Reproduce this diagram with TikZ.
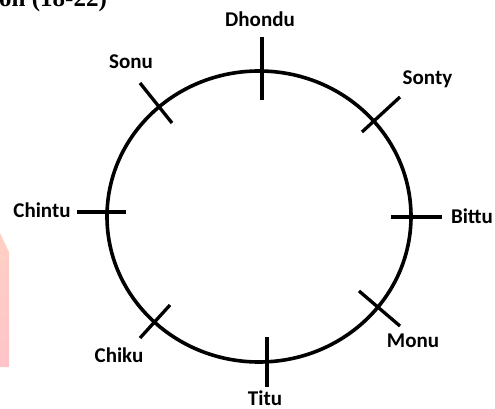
\documentclass[tikz,border=0pt]{standalone}
\usepackage{fontspec}
\setmainfont{Carlito}
\newfontfamily\headfont{Liberation Serif}
\begin{document}
\begin{tikzpicture}[x=1pt,y=-1pt,
  lbl/.style={font=\fontsize{21}{22}\selectfont\bfseries, inner sep=0pt, anchor=base},
  tick/.style={line width=3.3pt},
  ring/.style={line width=3.6pt}]
\useasboundingbox (0,0) rectangle (495,409);
\begin{scope}
\clip (0,0) rectangle (495,409);
% partial heading at top-left
\node[font=\fontsize{25}{26}\selectfont\bfseries\headfont, inner sep=0pt, anchor=base west] (head) at (-1,7) {on (18-22)};
% pink watermark strip
\shade[top color={rgb,255:red,255;green,208;blue,196}, bottom color={rgb,255:red,255;green,196;blue,200}]
  (0,233) -- (9,252) -- (9,367) -- (0,367) -- cycle;
\end{scope}
% circle
\coordinate (c) at (259,216.5);
\draw[ring] (c) ellipse [x radius=152, y radius=145.5];
% tick end points
\coordinate (dA) at (262,37);  \coordinate (dB) at (262,100);
\coordinate (tA) at (267,337); \coordinate (tB) at (267,387);
\coordinate (cA) at (77,212);  \coordinate (cB) at (126,212);
\coordinate (bA) at (391,217); \coordinate (bB) at (442,217);
\coordinate (syA) at (362,132); \coordinate (syB) at (400,97);
\coordinate (mA) at (359,291); \coordinate (mB) at (400,326);
\coordinate (suA) at (140,83); \coordinate (suB) at (172,123);
\coordinate (ckA) at (140,338); \coordinate (ckB) at (170,305);
\draw[tick] (dA) -- (dB);
\draw[tick] (tA) -- (tB);
\draw[tick] (cA) -- (cB);
\draw[tick] (bA) -- (bB);
\draw[tick] (syA) -- (syB);
\draw[tick] (mA) -- (mB);
\draw[tick] (suA) -- (suB);
\draw[tick] (ckA) -- (ckB);
% labels
\node[lbl] (dhondu) at (260,27) {Dhondu};
\node[lbl] (sonu) at (131,69) {Sonu};
\node[lbl] (sonty) at (427.5,85) {Sonty};
\node[lbl] (chintu) at (42,217) {Chintu};
\node[lbl] (bittu) at (472,223) {Bittu};
\node[lbl] (monu) at (413,347) {Monu};
\node[lbl] (chiku) at (119,362) {Chiku};
\node[lbl, text depth=0pt] (titu) at (265,405) {Titu};
\end{tikzpicture}
\end{document}
